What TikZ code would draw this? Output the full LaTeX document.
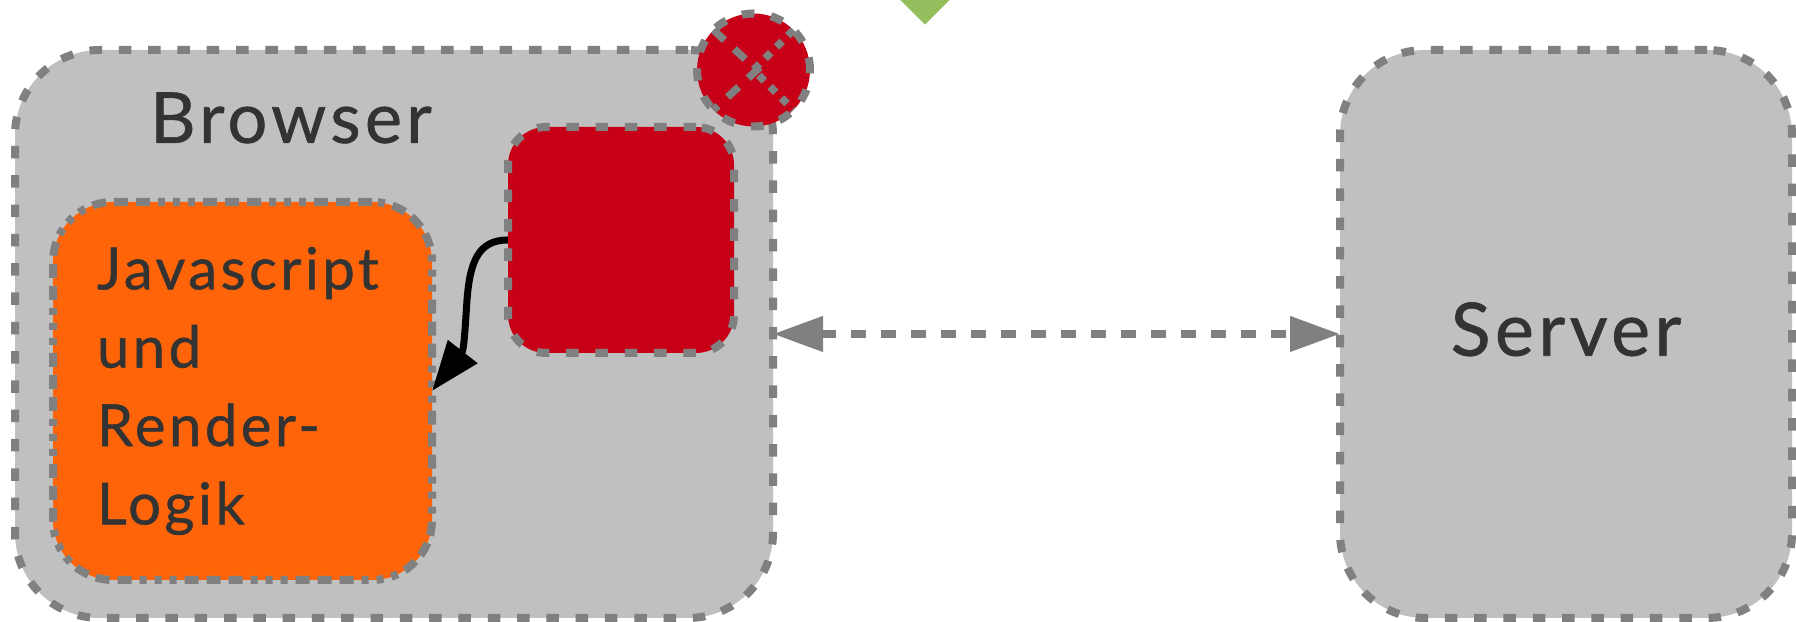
\documentclass[tikz,border=0pt]{standalone}
\usepackage{fontspec}
\setmainfont[LetterSpace=6,FakeBold=0.8]{Lato}
\usetikzlibrary{arrows.meta,shapes.geometric}

\definecolor{boxgray}{HTML}{C0C0C0}
\definecolor{linegray}{HTML}{808080}
\definecolor{jsorange}{HTML}{FF6408}
\definecolor{stopred}{HTML}{C70017}
\definecolor{tipgreen}{HTML}{95BF5E}
\definecolor{textdark}{HTML}{333333}

\tikzset{
  sketchbox/.style={draw=linegray, line width=0.08cm, dash pattern=on 0.125cm off 0.168cm,
    inner sep=0pt, outer sep=0pt, text=textdark},
  grayline/.style={draw=linegray, line width=0.075cm},
}

\begin{document}
\begin{tikzpicture}

\def\W{17.96}
\def\H{6.22}

\clip (0,0) rectangle (\W,\H);

\node[shape=diamond, fill=tipgreen, inner sep=0pt, minimum size=0.5cm] (tip) at (9.25,\H) {};

\node[sketchbox, fill=boxgray, rounded corners=0.85cm, minimum width=7.58cm, minimum height=5.68cm] (browser) at (3.94,2.88) {};
\node[sketchbox, fill=boxgray, rounded corners=0.85cm, minimum width=4.52cm, minimum height=5.68cm,
      font=\fontsize{21}{25}\selectfont] (server) at (15.66,2.88) {\raisebox{0.1cm}{Server}};

\node[text=textdark, font=\fontsize{20}{24}\selectfont, inner sep=0pt] (browserlabel) at (2.91,5.04) {Browser};

\node[sketchbox, fill=jsorange, rounded corners=0.6cm, minimum width=3.79cm, minimum height=3.78cm,
      dash pattern=on 0.14cm off 0.08cm on 0.14cm off 0.08cm on 0.14cm off 0.08cm on 0.07cm off 0.08cm on 0.07cm off 0.08cm on 0.07cm off 0.08cm,
      font=\fontsize{16.5}{22.3}\selectfont, align=left, text width=2.91cm] (js) at (2.425,2.31) {Javascript\\und\\Render-\\Logik};

\node[sketchbox, fill=stopred, rounded corners=0.38cm, minimum width=2.26cm, minimum height=2.26cm] (script) at (6.21,3.82) {};

\node[sketchbox, shape=circle, fill=stopred, minimum size=1.13cm] (stop) at (7.535,5.52) {};

\draw[grayline, dash pattern=on 0.15cm off 0.13cm] (stop.north west) -- (7.57,5.52) -- (stop.south west);
\draw[grayline, dash pattern=on 0.08cm off 0.08cm] (stop.north east) -- (7.535,5.52) -- (stop.south east);

\draw[line width=0.07cm, -{Triangle[length=0.5cm,width=0.36cm]}]
  (script.west) .. controls (4.78,3.82) and (4.70,3.60) .. (4.67,3.22)
  .. controls (4.65,2.92) and (4.64,2.72) .. (js.east);

\draw[grayline, dash pattern=on 0.15cm off 0.15cm, {Triangle[length=0.5cm,width=0.34cm]}-{Triangle[length=0.5cm,width=0.34cm]}]
  (browser.east) -- (server.west);

\end{tikzpicture}
\end{document}
